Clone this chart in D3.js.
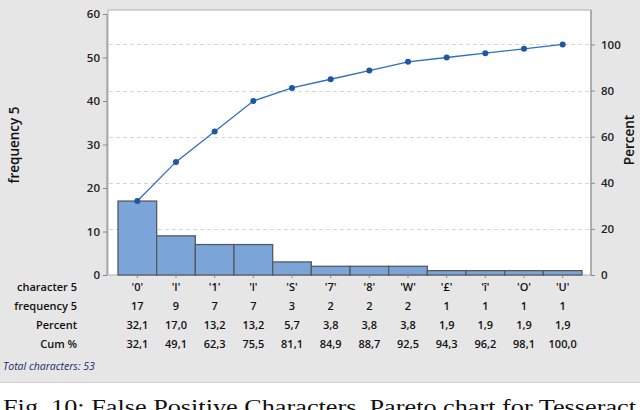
<!DOCTYPE html>
<html><head><meta charset="utf-8">
<script src="https://cdn.jsdelivr.net/npm/d3@7"></script>
<style>html,body{margin:0;padding:0;background:#fff;overflow:hidden}</style>
</head><body>
<script>
const categories = ["'0'", "'I'", "'1'", "'l'", "'S'", "'7'", "'8'", "'W'", "'£'", "'î'", "'O'", "'U'"];
const frequency = [17, 9, 7, 7, 3, 2, 2, 2, 1, 1, 1, 1];
const percentLabels = ["32,1","17,0","13,2","13,2","5,7","3,8","3,8","3,8","1,9","1,9","1,9","1,9"];
const cumLabels = ["32,1","49,1","62,3","75,5","81,1","84,9","88,7","92,5","94,3","96,2","98,1","100,0"];
const leftTicks = [0,10,20,30,40,50,60];
const rightTicks = [0,20,40,60,80,100];
const total = 53;

const W = 640, H = 410;
const svg = d3.select("body").append("svg").attr("width", W).attr("height", H);
const font = "'Open Sans', 'Noto Sans', sans-serif";
const txt = "#111";

svg.append("rect").attr("x",0).attr("y",0).attr("width",W).attr("height",382).attr("fill","#e6e6e6");
svg.append("line").attr("x1",0).attr("x2",W).attr("y1",382.5).attr("y2",382.5).attr("stroke","#cfcfcf");

const plot = {l:108, r:591, t:10, b:275};
svg.append("rect").attr("x",plot.l).attr("y",plot.t).attr("width",plot.r-plot.l).attr("height",plot.b-plot.t)
  .attr("fill","#fff").attr("stroke","#b0b0b0");

const x = d3.scaleBand().domain(categories).range([118, 582]).padding(0);
const yL = d3.scaleLinear().domain([0,60]).range([plot.b, 14]);
const yR = d3.scaleLinear().domain([0, 60/total*100]).range([plot.b, 14]);

// gridlines
svg.append("g").selectAll("line").data(rightTicks.filter(d=>d>0)).join("line")
  .attr("x1",plot.l+1).attr("x2",plot.r-1).attr("y1",d=>Math.round(yR(d))+0.5).attr("y2",d=>Math.round(yR(d))+0.5)
  .attr("stroke","#d6d6d6").attr("stroke-dasharray","4,3");

// bars
svg.append("g").selectAll("rect").data(frequency).join("rect")
  .attr("x",(d,i)=>x(categories[i])).attr("width",x.bandwidth())
  .attr("y",d=>yL(d)).attr("height",d=>plot.b-yL(d))
  .attr("fill","#7ba5d8").attr("stroke","#555a60").attr("stroke-width",1.3);

// cumulative line
const cum = d3.cumsum(frequency);
const pts = Array.from(cum, (c,i)=>[x(categories[i])+x.bandwidth()/2, yL(c)]);
svg.append("path").attr("d", d3.line()(pts)).attr("fill","none").attr("stroke","#2d6fbd").attr("stroke-width",1.3);
svg.append("g").selectAll("circle").data(pts).join("circle")
  .attr("cx",d=>d[0]).attr("cy",d=>d[1]).attr("r",3).attr("fill","#1d57a6");

// axes
const gL = svg.append("g").attr("transform",`translate(${plot.l-1},0)`)
  .call(d3.axisLeft(yL).tickValues(leftTicks).tickSize(4).tickPadding(3));
const gR = svg.append("g").attr("transform",`translate(${plot.r},0)`)
  .call(d3.axisRight(yR).tickValues(rightTicks).tickSize(4).tickPadding(6));
[gL,gR].forEach(g=>{
  g.select(".domain").attr("stroke","#8a8a8a");
  g.selectAll(".tick line").attr("stroke","#8a8a8a");
  g.selectAll("text").attr("font-family",font).attr("font-size",11.5).attr("font-weight",600).attr("fill","#222");
});
gL.select(".domain").attr("d",`M0,${yL(60)}V${plot.b+0.5}`);
gR.select(".domain").attr("d",`M0,${plot.t}V${plot.b+0.5}`);
// bottom ticks
svg.append("g").selectAll("line").data(categories).join("line")
  .attr("x1",d=>x(d)+x.bandwidth()/2).attr("x2",d=>x(d)+x.bandwidth()/2)
  .attr("y1",plot.b).attr("y2",plot.b+3).attr("stroke","#8a8a8a");

// axis titles
svg.append("text").attr("transform","translate(19,145) rotate(-90)").attr("text-anchor","middle")
  .attr("font-family",font).attr("font-size",13.5).attr("font-weight",600).attr("fill",txt).text("frequency 5");
svg.append("text").attr("transform","translate(634,140) rotate(-90)").attr("text-anchor","middle")
  .attr("font-family",font).attr("font-size",13.5).attr("font-weight",600).attr("fill",txt).text("Percent");

// table
const rows = [
  {label:"character 5", vals:categories, y:291},
  {label:"frequency 5", vals:frequency.map(String), y:310},
  {label:"Percent", vals:percentLabels, y:329},
  {label:"Cum %", vals:cumLabels, y:348}
];
rows.forEach(r=>{
  svg.append("text").attr("x",77).attr("y",r.y).attr("text-anchor","end")
    .attr("font-family",font).attr("font-size",11).attr("font-weight",600).attr("fill",txt).text(r.label);
  svg.append("g").selectAll("text").data(r.vals).join("text")
    .attr("x",(d,i)=>x(categories[i])+x.bandwidth()/2).attr("y",r.y).attr("text-anchor","middle")
    .attr("font-family",font).attr("font-size",11).attr("font-weight",600).attr("fill",txt).text(d=>d);
});
svg.append("text").attr("x",3).attr("y",370).attr("font-family",font).attr("font-size",10.5)
  .attr("font-style","italic").attr("fill","#1a2a6a").text("Total characters: " + total);

// caption (cut off at the bottom edge, as in the reference)
svg.append("text").attr("x",3).attr("y",414).attr("font-family","'Liberation Serif', serif").attr("font-size",20)
  .attr("fill","#111").attr("textLength",633).attr("lengthAdjust","spacingAndGlyphs")
  .text("Fig. 10: False Positive Characters. Pareto chart for Tesseract");
</script>
</body></html>
